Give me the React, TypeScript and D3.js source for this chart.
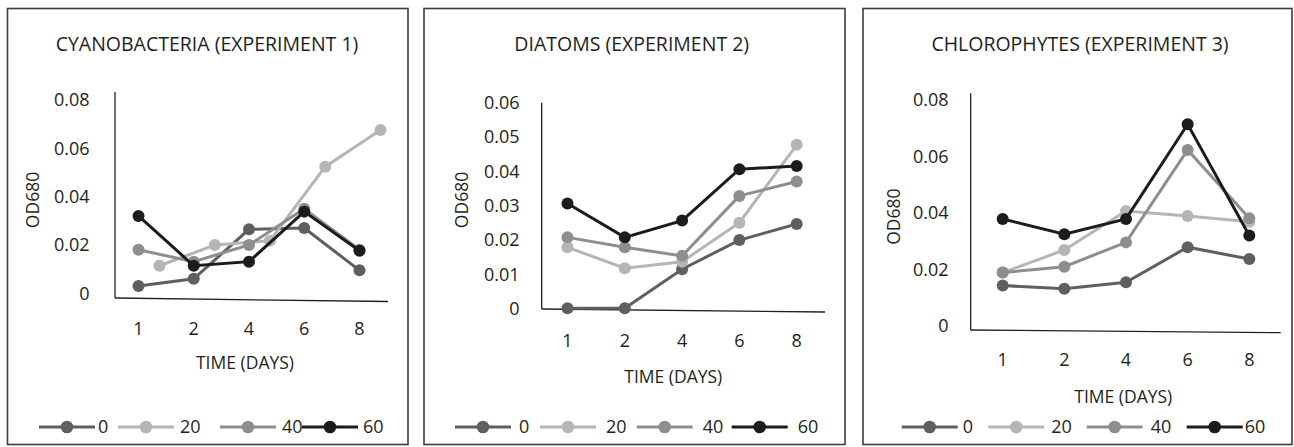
import React from "react";
import * as d3 from "d3";

const days = ["1", "2", "4", "6", "8"];
const seriesNames = ["0", "20", "40", "60"];
const seriesColors = ["#5e5f5f", "#b4b5b5", "#8d8e8e", "#1c1c1b"];

const cyano0 = [0.003, 0.006, 0.0265, 0.027, 0.0095];
const cyano20 = [0.0114, 0.02, 0.0218, 0.0524, 0.0676];
const cyano40 = [0.018, 0.0131, 0.02, 0.035, 0.018];
const cyano60 = [0.032, 0.0114, 0.0131, 0.0338, 0.0176];

const diatom0 = [0, 0, 0.0114, 0.0199, 0.0246];
const diatom20 = [0.0178, 0.0117, 0.0136, 0.025, 0.0477];
const diatom40 = [0.0207, 0.0178, 0.0153, 0.0328, 0.037];
const diatom60 = [0.0306, 0.0207, 0.0256, 0.0406, 0.0415];

const chloro0 = [0.0143, 0.0132, 0.0155, 0.0279, 0.0237];
const chloro20 = [0.0189, 0.0269, 0.0407, 0.0389, 0.0369];
const chloro40 = [0.0189, 0.021, 0.0296, 0.0623, 0.0381];
const chloro60 = [0.0379, 0.0325, 0.0379, 0.0714, 0.032];

const ticks1 = [0, 0.02, 0.04, 0.06, 0.08];
const ticks2 = [0, 0.01, 0.02, 0.03, 0.04, 0.05, 0.06];
const ticks3 = [0, 0.02, 0.04, 0.06, 0.08];

const titles = [
  "CYANOBACTERIA (EXPERIMENT 1)",
  "DIATOMS (EXPERIMENT 2)",
  "CHLOROPHYTES (EXPERIMENT 3)",
];

const FONT = "'Open Sans', 'Noto Sans', sans-serif";
const TEXT = "#231f20";

type Layout = {
  box: [number, number, number, number];
  yMax: number;
  ticks: number[];
  yRange: [number, number];
  xRange: [number, number];
  axisX: number;
  axisTop: number;
  axisBottom: [number, number];
  axisRight: number;
  tickLabelX: number;
  xTickY: number;
  title: [number, number];
  yLabel: [number, number];
  xLabel: [number, number];
  legendY: number;
  legendStarts: number[];
  legendGap: number[];
  shift: number[];
  data: number[][];
};

const panels: Layout[] = [
  {
    box: [7.5, 8.5, 408, 444.5],
    yMax: 0.08,
    ticks: ticks1,
    yRange: [293.3, 100],
    xRange: [138.5, 359.5],
    axisX: 115,
    axisTop: 92,
    axisBottom: [298, 301.5],
    axisRight: 388,
    tickLabelX: 89.5,
    xTickY: 329,
    title: [207, 44],
    yLabel: [33, 200],
    xLabel: [245, 363],
    legendY: 427,
    legendStarts: [39, 118, 220, 302],
    legendGap: [3, 6, 6, 5],
    shift: [0, 21, 0, 0],
    data: [cyano0, cyano20, cyano40, cyano60],
  },
  {
    box: [424, 8.5, 845, 444.5],
    yMax: 0.06,
    ticks: ticks2,
    yRange: [308.3, 102.7],
    xRange: [567.5, 796.7],
    axisX: 541.7,
    axisTop: 102.7,
    axisBottom: [309, 312],
    axisRight: 825,
    tickLabelX: 519.5,
    xTickY: 340.7,
    title: [631.7, 44],
    yLabel: [461.7, 200],
    xLabel: [673.3, 376.7],
    legendY: 427,
    legendStarts: [455, 540, 636.7, 731.7],
    legendGap: [8, 10, 10, 10],
    shift: [0, 0, 0, 0],
    data: [diatom0, diatom20, diatom40, diatom60],
  },
  {
    box: [863, 8.5, 1292, 444.5],
    yMax: 0.08,
    ticks: ticks3,
    yRange: [326, 100],
    xRange: [1002.7, 1249.3],
    axisX: 970.7,
    axisTop: 93.3,
    axisBottom: [330, 332.7],
    axisRight: 1280.7,
    tickLabelX: 948.5,
    xTickY: 359.3,
    title: [1080, 44],
    yLabel: [893.3, 216.7],
    xLabel: [1123.3, 396.7],
    legendY: 427,
    legendStarts: [901.7, 988.3, 1086.7, 1186.7],
    legendGap: [5, 7, 8, 2],
    shift: [0, 0, 0, 0],
    data: [chloro0, chloro20, chloro40, chloro60],
  },
];

function tickFmt(v: number) {
  return v === 0 ? "0" : String(+v.toFixed(2));
}

function Panel({ p, title }: { p: Layout; title: string }) {
  const x = d3.scalePoint<string>().domain(days).range(p.xRange);
  const y = d3.scaleLinear().domain([0, p.yMax]).range(p.yRange);
  const [bx0, by0, bx1, by1] = p.box;
  return (
    <g>
      <rect x={bx0} y={by0} width={bx1 - bx0} height={by1 - by0} fill="#fff" stroke="#3d3d3d" strokeWidth={1.6} />
      <text x={p.title[0]} y={p.title[1]} dy="0.36em" textAnchor="middle" fontSize={19.5} fill={TEXT}>
        {title}
      </text>
      <line x1={p.axisX} y1={p.axisTop} x2={p.axisX} y2={p.axisBottom[0]} stroke="#231f20" strokeWidth={1.3} />
      <line x1={p.axisX} y1={p.axisBottom[0]} x2={p.axisRight} y2={p.axisBottom[1]} stroke="#231f20" strokeWidth={1.3} />
      {p.ticks.map((t) => (
        <text key={t} x={p.tickLabelX} y={y(t)} dy="0.36em" textAnchor="end" fontSize={18} fill={TEXT}>
          {tickFmt(t)}
        </text>
      ))}
      {days.map((d) => (
        <text key={d} x={x(d)} y={p.xTickY} dy="0.36em" textAnchor="middle" fontSize={18} fill={TEXT}>
          {d}
        </text>
      ))}
      <text
        transform={`translate(${p.yLabel[0]},${p.yLabel[1]}) rotate(-90)`}
        dy="0.36em"
        textAnchor="middle"
        fontSize={17.5}
        fill={TEXT}
      >
        OD680
      </text>
      <text x={p.xLabel[0]} y={p.xLabel[1]} dy="0.36em" textAnchor="middle" fontSize={17.5} fill={TEXT}>
        TIME (DAYS)
      </text>
      {p.data.map((vals, si) => {
        const line = d3
          .line<number>()
          .x((_, i) => (x(days[i]) as number) + p.shift[si])
          .y((v) => y(v));
        return (
          <g key={si}>
            <path d={line(vals) || ""} fill="none" stroke={seriesColors[si]} strokeWidth={3} />
            {vals.map((v, i) => (
              <circle key={i} cx={(x(days[i]) as number) + p.shift[si]} cy={y(v)} r={6} fill={seriesColors[si]} />
            ))}
          </g>
        );
      })}
      {seriesNames.map((name, si) => {
        const s = p.legendStarts[si];
        return (
          <g key={name}>
            <line x1={s} y1={p.legendY} x2={s + 56} y2={p.legendY} stroke={seriesColors[si]} strokeWidth={3} />
            <circle cx={s + 28} cy={p.legendY} r={6.3} fill={seriesColors[si]} />
            <text x={s + 56 + p.legendGap[si]} y={p.legendY} dy="0.36em" fontSize={18} fill={TEXT}>
              {name}
            </text>
          </g>
        );
      })}
    </g>
  );
}

export default function App() {
  return (
    <svg
      width={1294}
      height={447}
      style={{ position: "absolute", left: 0, top: 0, fontFamily: FONT, background: "#fff" }}
    >
      <rect x={0} y={0} width={1294} height={447} fill="#fff" />
      {panels.map((p, i) => (
        <Panel key={i} p={p} title={titles[i]} />
      ))}
    </svg>
  );
}
